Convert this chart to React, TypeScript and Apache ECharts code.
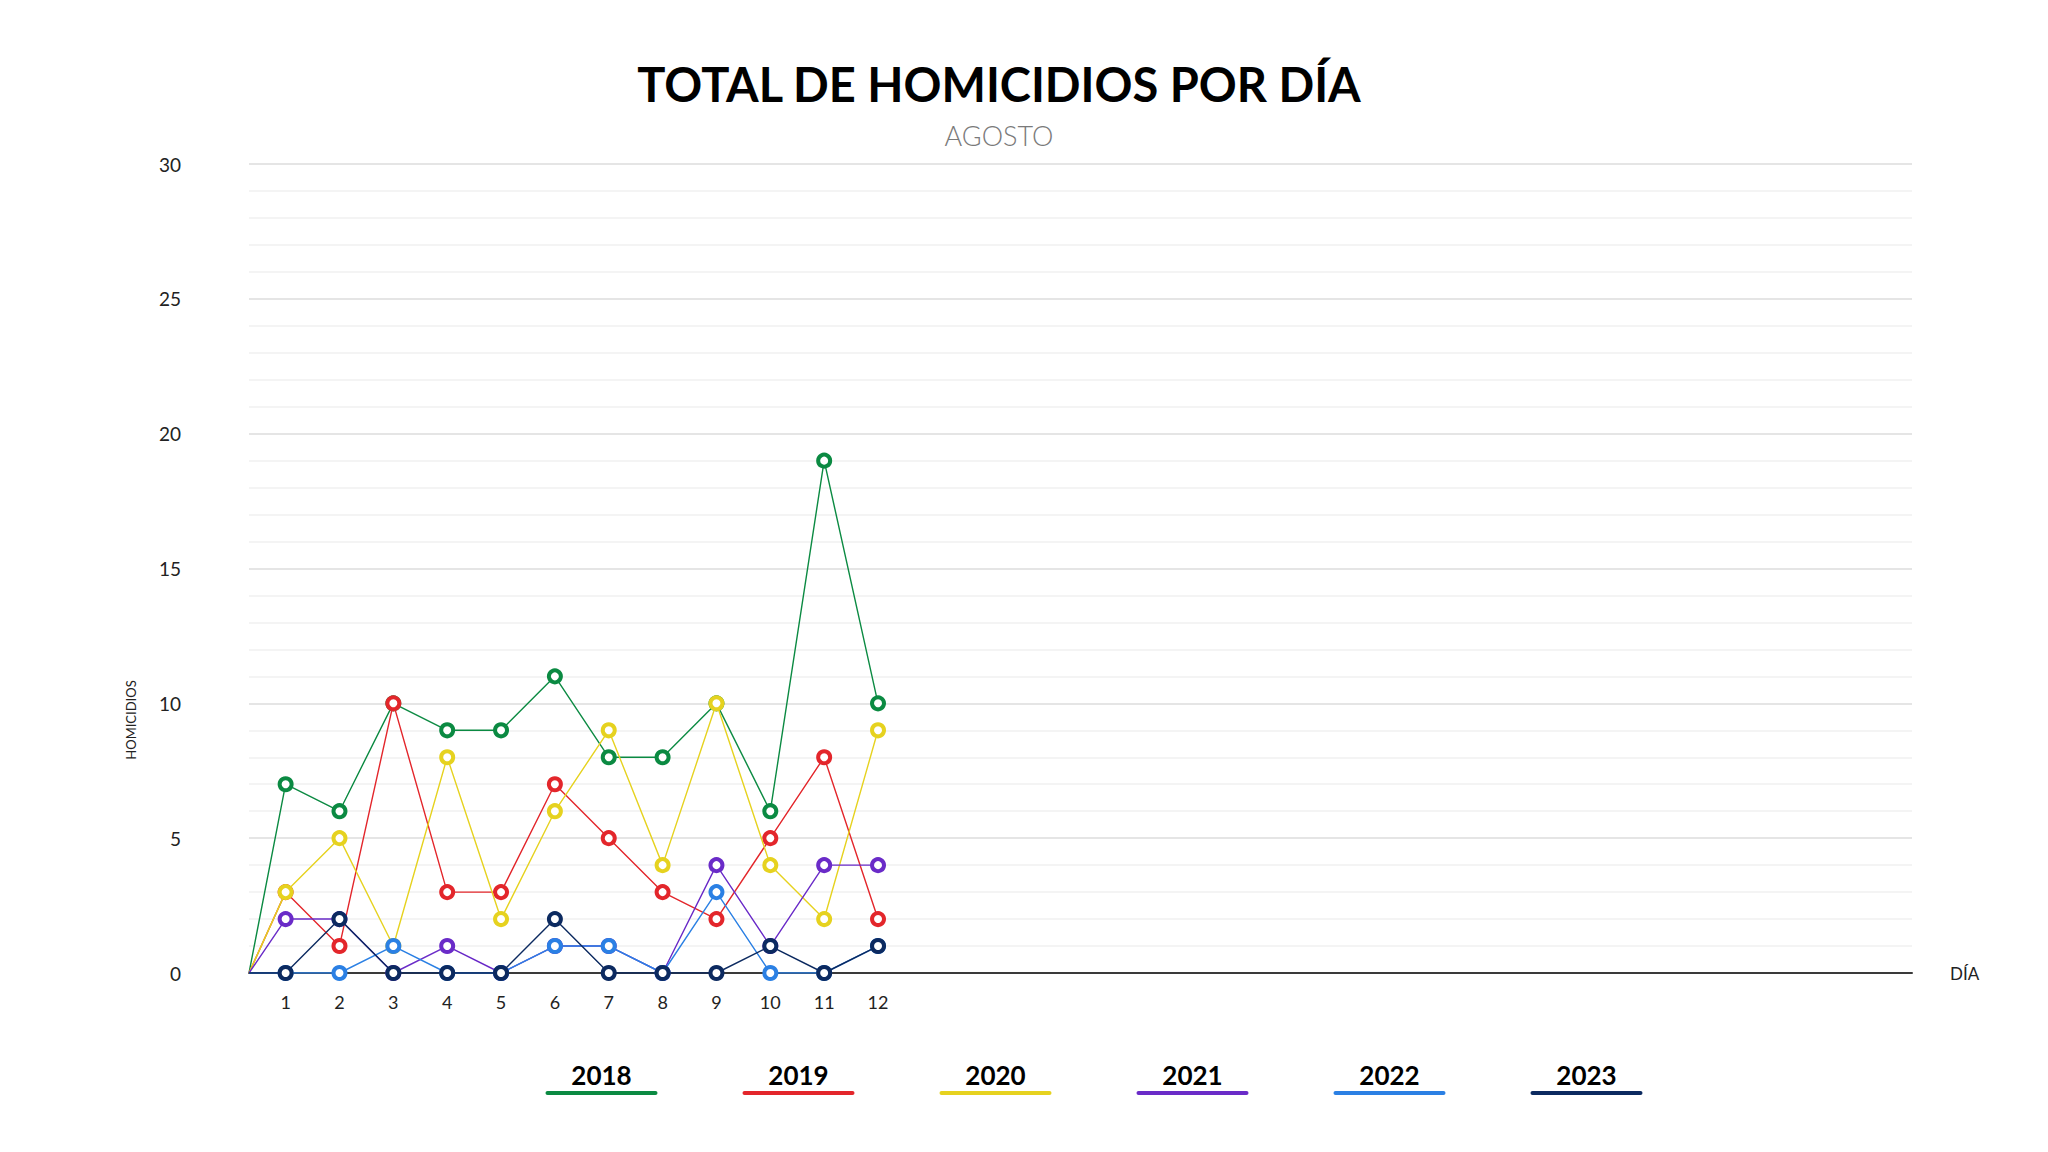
import React, { useEffect, useRef } from 'react';
import * as echarts from 'echarts';

// días del mes con datos
const DAYS = [1, 2, 3, 4, 5, 6, 7, 8, 9, 10, 11, 12];

const Y2018 = [7, 6, 10, 9, 9, 11, 8, 8, 10, 6, 19, 10];
const Y2019 = [3, 1, 10, 3, 3, 7, 5, 3, 2, 5, 8, 2];
const Y2020 = [3, 5, 1, 8, 2, 6, 9, 4, 10, 4, 2, 9];
const Y2021 = [2, 2, 0, 1, 0, 1, 1, 0, 4, 1, 4, 4];
const Y2022 = [0, 0, 1, 0, 0, 1, 1, 0, 3, 0, 0, 1];
const Y2023 = [0, 2, 0, 0, 0, 2, 0, 0, 0, 1, 0, 1];

const YEARS = ['2018', '2019', '2020', '2021', '2022', '2023'];
const VALUES = [Y2018, Y2019, Y2020, Y2021, Y2022, Y2023];
const COLORS = ['#0b8a42', '#e3262b', '#e6d21f', '#6a2bc8', '#2b80e4', '#0c2a60'];

const Y_TICKS = [0, 5, 10, 15, 20, 25, 30];

// el eje empieza un poco antes del día 1 y termina al final del mes
const X_MIN = 0.32;
const X_MAX = 31.2;

const FONT = 'Lato, "Noto Sans", sans-serif';

const App: React.FC = () => {
  const chartRef = useRef<HTMLDivElement>(null);

  useEffect(() => {
    if (!chartRef.current) return;
    const chart = echarts.init(chartRef.current, undefined, { renderer: 'svg' });

    const series = YEARS.map((year, i) => ({
      name: year,
      type: 'line',
      data: [
        { value: [X_MIN, 0], symbol: 'none' },
        ...DAYS.map((d, j) => [d, VALUES[i][j]])
      ],
      symbol: 'circle',
      symbolSize: 12,
      showAllSymbol: true,
      lineStyle: { color: COLORS[i], width: 1.4 },
      itemStyle: { color: '#fff', borderColor: COLORS[i], borderWidth: 4 },
      z: 2 + i
    }));

    // leyenda con el año encima de una barra de color
    const legendCenter = 1094;
    const legendStep = 197;
    const legend = YEARS.map((year, i) => {
      const cx = legendCenter + (i - (YEARS.length - 1) / 2) * legendStep;
      return {
        type: 'group',
        children: [
          {
            type: 'text',
            x: cx,
            y: 1075,
            style: {
              text: year,
              fill: '#000',
              font: `bold 26px ${FONT}`,
              textAlign: 'center',
              textVerticalAlign: 'middle'
            }
          },
          {
            type: 'rect',
            shape: { x: cx - 56, y: 1091, width: 112, height: 4, r: 2 },
            style: { fill: COLORS[i] }
          }
        ]
      };
    });

    chart.setOption({
      animation: false,
      backgroundColor: '#fff',
      textStyle: { fontFamily: FONT },
      grid: { left: 249, right: 136, top: 164, bottom: 179 },
      graphic: [
        {
          type: 'text',
          x: 999,
          y: 84,
          style: {
            text: 'TOTAL DE HOMICIDIOS POR DÍA',
            fill: '#000',
            font: `bold 47px ${FONT}`,
            textAlign: 'center',
            textVerticalAlign: 'middle'
          }
        },
        {
          type: 'text',
          x: 999,
          y: 135,
          style: {
            text: 'AGOSTO',
            fill: '#7a7a7a',
            font: `300 27px ${FONT}`,
            textAlign: 'center',
            textVerticalAlign: 'middle'
          }
        },
        {
          type: 'text',
          x: 131,
          y: 720,
          rotation: Math.PI / 2,
          style: {
            text: 'HOMICIDIOS',
            fill: '#222',
            font: `13px ${FONT}`,
            textAlign: 'center',
            textVerticalAlign: 'middle'
          }
        },
        ...legend
      ],
      xAxis: {
        type: 'value',
        min: X_MIN,
        max: X_MAX,
        name: 'DÍA',
        nameLocation: 'end',
        nameGap: 38,
        nameTextStyle: { color: '#222', fontSize: 17, verticalAlign: 'middle' },
        axisLine: { show: true, onZero: false, lineStyle: { color: '#3a3a3a', width: 2 } },
        axisTick: { show: false },
        splitLine: { show: false },
        axisLabel: {
          customValues: DAYS,
          color: '#222',
          fontSize: 18,
          margin: 20
        }
      },
      yAxis: {
        type: 'value',
        min: 0,
        max: 30,
        interval: 5,
        axisLine: { show: false },
        axisTick: { show: false },
        axisLabel: {
          customValues: Y_TICKS,
          color: '#222',
          fontSize: 19,
          margin: 68
        },
        splitLine: { show: true, lineStyle: { color: '#dcdcdc', width: 1.5 } },
        minorTick: { show: false, splitNumber: 5 },
        minorSplitLine: { show: true, lineStyle: { color: '#f1f1f1', width: 1.5 } }
      },
      series
    });

    return () => {
      chart.dispose();
    };
  }, []);

  return (
    <div
      ref={chartRef}
      style={{ position: 'absolute', left: 0, top: 0, width: 2048, height: 1152 }}
    />
  );
};

export default App;
